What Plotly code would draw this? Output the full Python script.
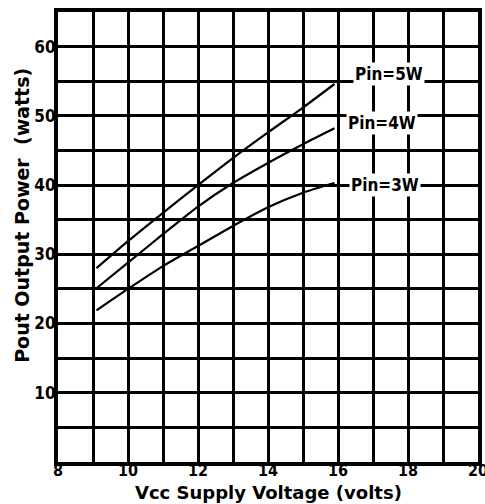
import plotly.graph_objects as go

vcc = [9.1, 10, 11, 12, 13, 14, 15, 15.9]
pin_5w = [28.0, 31.9, 36.0, 40.0, 43.9, 47.6, 51.2, 54.6]
pin_4w = [25.1, 28.8, 32.9, 36.9, 40.3, 43.2, 45.9, 48.2]
pin_3w = [21.9, 25.0, 28.3, 31.2, 34.1, 36.8, 38.9, 40.3]

x_ticks = list(range(8, 21))
x_labels = ["<b>" + str(v) + "</b>" if v % 2 == 0 else "" for v in x_ticks]
y_ticks = list(range(0, 66, 5))
y_labels = ["<b>" + str(v) + "</b>" if (v % 10 == 0 and 10 <= v <= 60) else "" for v in y_ticks]

series = [("Pin=5W", pin_5w, 17.45, 56.1), ("Pin=4W", pin_4w, 17.25, 48.9),
          ("Pin=3W", pin_3w, 17.35, 40.0)]

fig = go.Figure()
for name, vals, lx, ly in series:
    fig.add_trace(go.Scatter(x=vcc, y=vals, mode="lines", name=name,
                             line=dict(color="black", width=2.2, shape="spline", smoothing=0.8),
                             showlegend=False, hoverinfo="skip"))
    fig.add_annotation(x=lx, y=ly, text="<b>" + name + "</b>", showarrow=False,
                       font=dict(family="DejaVu Sans Condensed", size=17, color="black"),
                       bgcolor="white", borderpad=1)

fig.add_annotation(xref="paper", yref="paper", x=0.502, y=-0.068, yanchor="middle",
                   text="<b>Vcc Supply Voltage (volts)</b>", showarrow=False,
                   font=dict(family="DejaVu Sans", size=18, color="black"))
fig.add_annotation(xref="paper", yref="paper", x=-0.086, y=0.549, xanchor="center",
                   yanchor="middle",
                   text="<b>Pout Output Power  (watts)</b>", showarrow=False, textangle=-90,
                   font=dict(family="DejaVu Sans", size=19, color="black"))

axis_common = dict(showgrid=True, gridcolor="black", gridwidth=3,
                   showline=True, linecolor="black", linewidth=4, mirror=True,
                   zeroline=False, ticks="", automargin=False, ticklabeloverflow="allow")

fig.update_xaxes(range=[8, 20], tickmode="array", tickvals=x_ticks, ticktext=x_labels,
                 ticklabelstandoff=-9,
                 tickfont=dict(family="DejaVu Sans Condensed", size=16, color="black"),
                 **axis_common)
fig.update_yaxes(range=[0, 65], tickmode="array", tickvals=y_ticks, ticktext=y_labels,
                 ticklabelstandoff=-5,
                 tickfont=dict(family="DejaVu Sans Condensed", size=17, color="black"),
                 **axis_common)

fig.update_layout(width=485, height=504,
                  margin=dict(l=58, r=7, t=12, b=42, autoexpand=False),
                  plot_bgcolor="white", paper_bgcolor="white", hovermode=False)

fig.write_html("out.html", config={"displayModeBar": False, "staticPlot": True})

with open("out.html", "r", encoding="utf-8") as f:
    html = f.read()
html = html.replace("<head>", "<head><style>html,body{margin:0;padding:0;overflow:hidden;}</style>", 1)
with open("out.html", "w", encoding="utf-8") as f:
    f.write(html)
